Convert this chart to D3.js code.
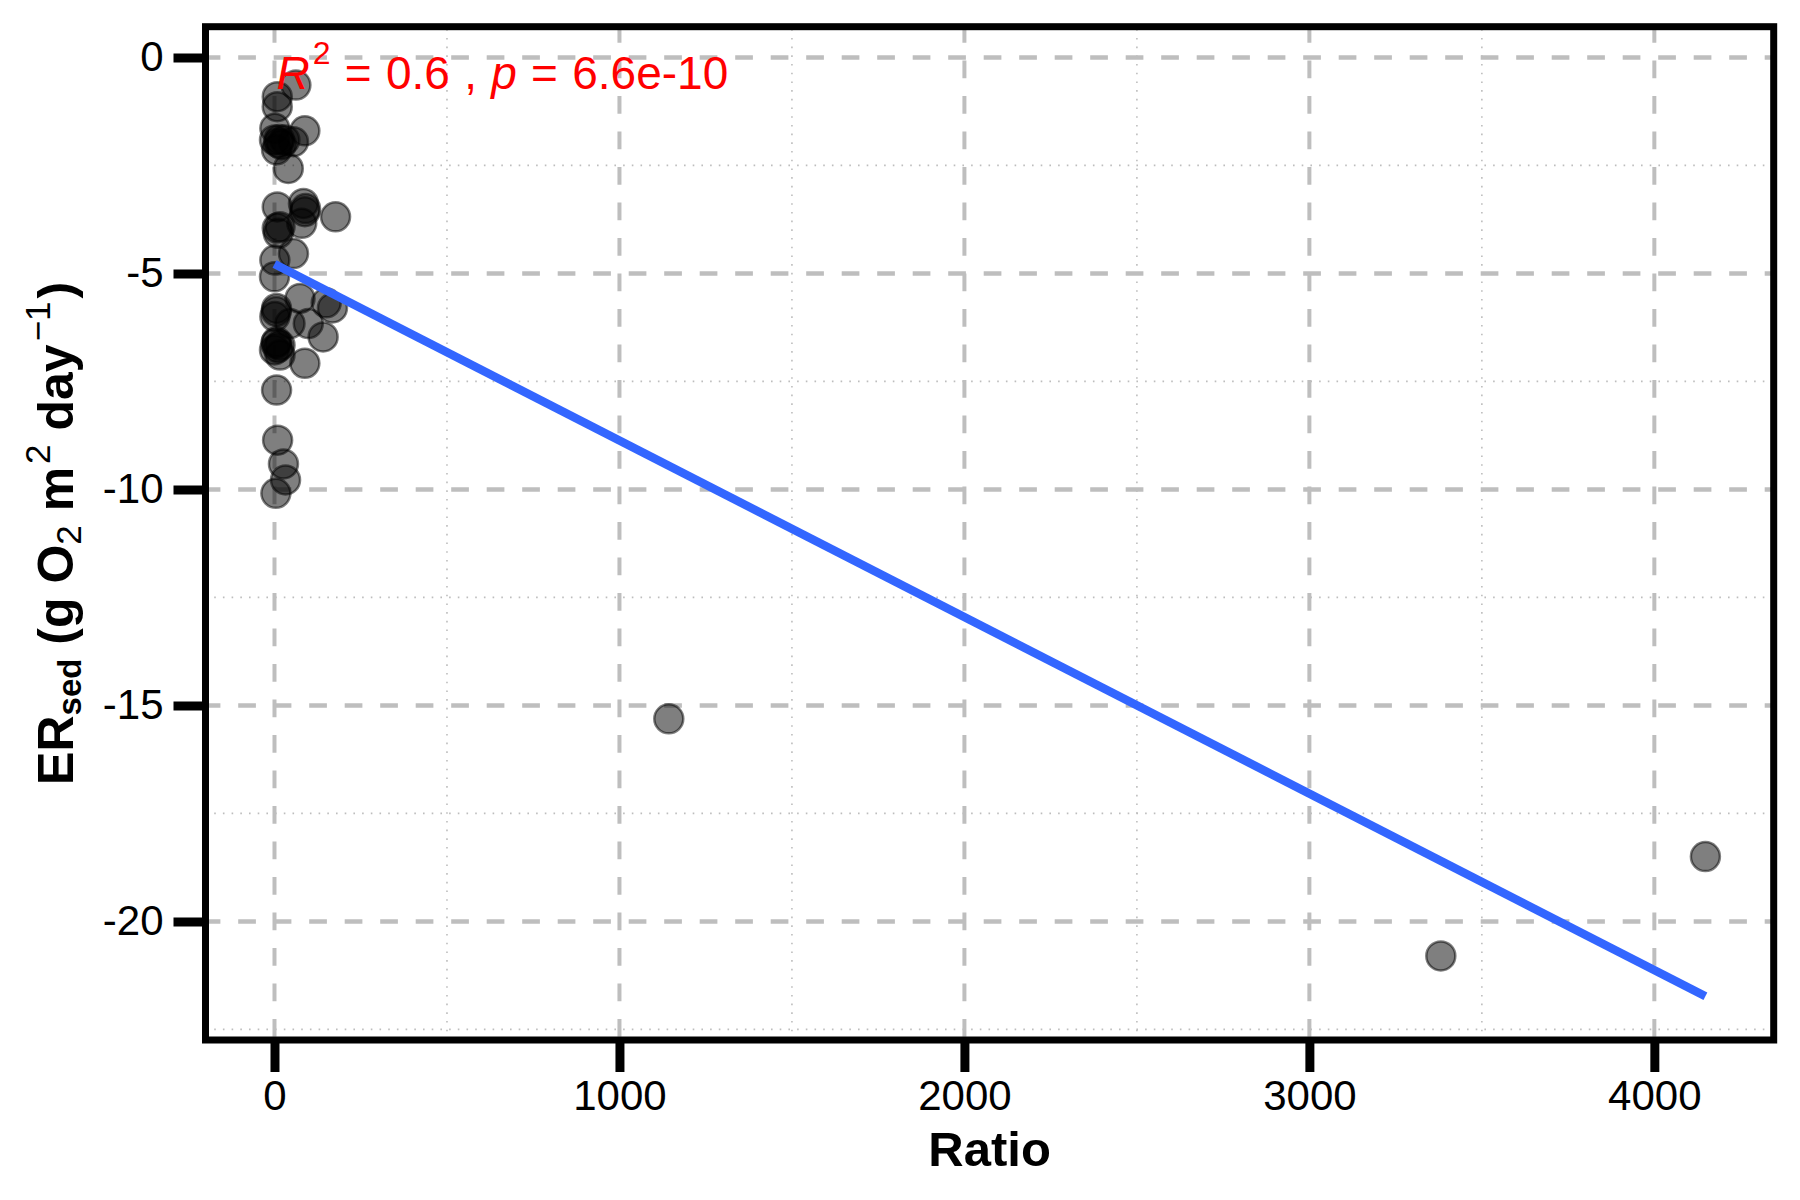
<!DOCTYPE html>
<html>
<head>
<meta charset="utf-8">
<script src="https://cdn.jsdelivr.net/npm/d3@7"></script>
<style>
  body { margin: 0; background: #fff; }
  text { font-family: "Liberation Sans", Arial, sans-serif; }
</style>
</head>
<body>
<svg id="chart"></svg>
<script>
// data
const ratio = [62, 8, 8, 1, 88, 14, 55, 6, 30, 0, 12, 20, 40,
  8, 84, 88, 90, 79, 177, 16, 11, 8, 55, 1,
  0, 6, 5, 74, 150, 168, 1, 45, 98, 141, 6, 16, 0, 10, 4, 16, 88,
  6, 9, 26, 32, 4,
  1143, 3381, 4148];
const er = [-0.64, -0.91, -1.14, -1.64, -1.70, -1.90, -1.95, -2.14, -1.91, -1.91, -1.98, -2.02, -2.57,
  -3.46, -3.38, -3.57, -3.50, -3.84, -3.69, -3.92, -4.07, -3.95, -4.54, -4.69,
  -5.08, -5.81, -5.88, -5.58, -5.68, -5.80, -6.00, -6.16, -6.16, -6.47, -6.58, -6.66, -6.77, -6.72, -6.62, -6.89, -7.08,
  -7.70, -8.86, -9.41, -9.78, -10.09,
  -15.31, -20.80, -18.50];

// linear fit (intercept, slope) as shown on the plot
const fitCoef = [-4.78, -0.004087];
const statLabel = ["0.6", "6.6e-10"];

const xTicks = [0, 1000, 2000, 3000, 4000];
const xMinor = [500, 1500, 2500, 3500];
const yTicks = [0, -5, -10, -15, -20];
const yMinor = [-2.5, -7.5, -12.5, -17.5, -22.5];

const width = 1800, height = 1200;
const panel = { left: 205.5, right: 1773.7, top: 26.7, bottom: 1040 };

const svg = d3.select("#chart")
  .attr("width", width)
  .attr("height", height)
  .attr("viewBox", [0, 0, width, height]);

svg.append("rect").attr("width", width).attr("height", height).attr("fill", "#fff");

const x = d3.scaleLinear().domain([-200, 4346]).range([panel.left, panel.right]);
const y = d3.scaleLinear().domain([-22.745, 0.711]).range([panel.bottom, panel.top]);

// minor grid (dotted)
const grid = svg.append("g");
grid.selectAll(".vminor").data(xMinor).join("line")
  .attr("x1", d => x(d)).attr("x2", d => x(d))
  .attr("y1", panel.bottom).attr("y2", panel.top)
  .attr("stroke", "#bdbdbd").attr("stroke-width", 1.6)
  .attr("stroke-dasharray", "1.6,7.1");
grid.selectAll(".hminor").data(yMinor).join("line")
  .attr("y1", d => y(d)).attr("y2", d => y(d))
  .attr("x1", panel.left).attr("x2", panel.right)
  .attr("stroke", "#bdbdbd").attr("stroke-width", 1.6)
  .attr("stroke-dasharray", "1.6,7.1");

// major grid (dashed)
grid.selectAll(".vmajor").data(xTicks).join("line")
  .attr("x1", d => x(d)).attr("x2", d => x(d))
  .attr("y1", panel.bottom).attr("y2", panel.top)
  .attr("stroke", "#bebebe").attr("stroke-width", 4)
  .attr("stroke-dasharray", "17.7,17.8")
  .attr("stroke-dashoffset", 32.3);
grid.selectAll(".hmajor").data(yTicks).join("line")
  .attr("y1", d => y(d)).attr("y2", d => y(d))
  .attr("x1", panel.left).attr("x2", panel.right)
  .attr("stroke", "#bebebe").attr("stroke-width", 4.5)
  .attr("stroke-dasharray", "17.7,17.8")
  .attr("stroke-dashoffset", 2.8);

// points
const pts = ratio.map((r, i) => ({ r, e: er[i] }));
svg.append("g").selectAll("circle").data(pts).join("circle")
  .attr("cx", d => x(d.r))
  .attr("cy", d => y(d.e))
  .attr("r", 14.5)
  .attr("fill", "rgba(0,0,0,0.5)")
  .attr("stroke", "rgba(0,0,0,0.5)")
  .attr("stroke-width", 2.5);

// regression line
const xr = d3.extent(ratio);
svg.append("line")
  .attr("x1", x(xr[0])).attr("y1", y(fitCoef[0] + fitCoef[1] * xr[0]))
  .attr("x2", x(xr[1])).attr("y2", y(fitCoef[0] + fitCoef[1] * xr[1]))
  .attr("stroke", "#3366FF")
  .attr("stroke-width", 8.5);

// R2 / p label
const lab = svg.append("text")
  .attr("x", x(0) + 2)
  .attr("y", 89.3)
  .attr("fill", "#FF0000")
  .attr("font-size", 46)
  .attr("word-spacing", 1.5);
lab.append("tspan").attr("font-style", "italic").text("R");
lab.append("tspan").attr("font-size", 32).attr("dy", -25).attr("dx", 3).text("2");
lab.append("tspan").attr("dy", 25).text(` = ${statLabel[0]} , `);
lab.append("tspan").attr("font-style", "italic").text("p");
lab.append("tspan").text(` = ${statLabel[1]}`);

// panel border
svg.append("rect")
  .attr("x", panel.left).attr("y", panel.top)
  .attr("width", panel.right - panel.left)
  .attr("height", panel.bottom - panel.top)
  .attr("fill", "none")
  .attr("stroke", "#000")
  .attr("stroke-width", 7);

// x axis
const xAxis = svg.append("g")
  .attr("transform", `translate(0,${panel.bottom})`)
  .call(d3.axisBottom(x).tickValues(xTicks).tickSize(32).tickPadding(8).tickFormat(d3.format("d")));
xAxis.select(".domain").remove();
xAxis.selectAll(".tick line").attr("stroke", "#000").attr("stroke-width", 9);
xAxis.selectAll(".tick text")
  .attr("font-size", 42).attr("font-family", "Liberation Sans, Arial, sans-serif")
  .attr("fill", "#000");

// y axis
const yAxis = svg.append("g")
  .attr("transform", `translate(${panel.left},0)`)
  .call(d3.axisLeft(y).tickValues(yTicks).tickSize(32).tickPadding(10).tickFormat(d3.format("d")));
yAxis.select(".domain").remove();
yAxis.selectAll(".tick line").attr("stroke", "#000").attr("stroke-width", 9);
yAxis.selectAll(".tick text")
  .attr("font-size", 42).attr("font-family", "Liberation Sans, Arial, sans-serif")
  .attr("fill", "#000")
  .text(d => d === 0 ? "0" : "-" + Math.abs(d));

// axis titles
svg.append("text")
  .attr("x", (panel.left + panel.right) / 2)
  .attr("y", 1166)
  .attr("text-anchor", "middle")
  .attr("font-size", 49)
  .attr("font-weight", "bold")
  .text("Ratio");

const yt = svg.append("text")
  .attr("transform", `translate(73,${(panel.top + panel.bottom) / 2}) rotate(-90)`)
  .attr("text-anchor", "middle")
  .attr("font-size", 50)
  .attr("font-weight", "bold");
yt.append("tspan").text("ER");
yt.append("tspan").attr("font-size", 33).attr("dy", 8).text("sed");
yt.append("tspan").attr("dy", -8).text(" (g O");
yt.append("tspan").attr("font-size", 35).attr("font-weight", "normal").attr("dy", 8).text("2");
yt.append("tspan").attr("dy", -8).text(" m");
yt.append("tspan").attr("font-size", 35).attr("font-weight", "normal").attr("dy", -23).attr("dx", 3).text("2");
yt.append("tspan").attr("dy", 23).text(" day");
yt.append("tspan").attr("font-size", 35).attr("font-weight", "normal").attr("dy", -23).attr("dx", 3).text("\u22121");
yt.append("tspan").attr("dy", 23).attr("dx", 3).text(")");
</script>
</body>
</html>
